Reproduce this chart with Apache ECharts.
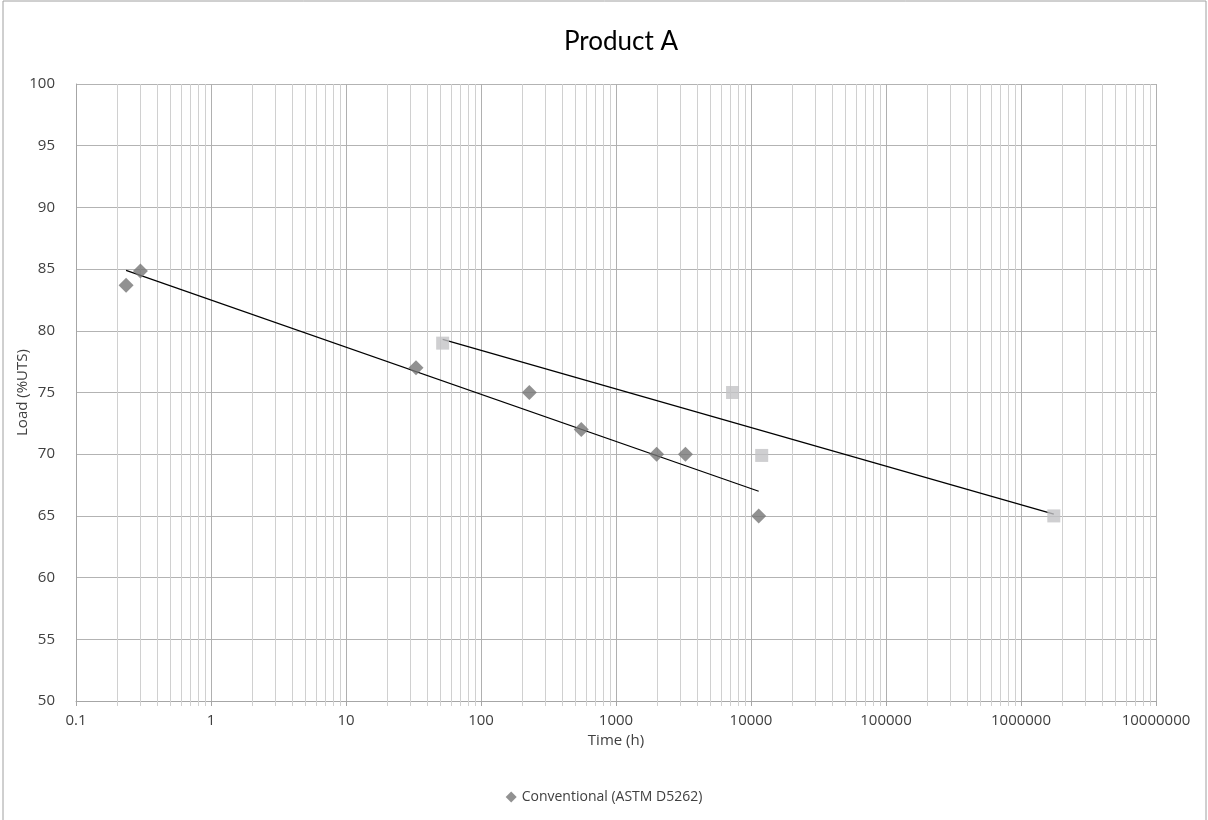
<!DOCTYPE html>
<html>
<head>
<meta charset="utf-8">
<script src="https://cdn.jsdelivr.net/npm/echarts@6/dist/echarts.min.js"></script>
<style>
  html, body { margin: 0; padding: 0; background: #fff; }
  #main { width: 1208px; height: 820px; }
</style>
</head>
<body>
<div id="main"></div>
<script>
// data
var conventional = [
  [0.235, 83.7], [0.3, 84.85], [33, 77], [228, 75], [553, 72],
  [2000, 70], [3270, 70], [11400, 65]
];
var otherSeries = [
  [52, 79], [7300, 75], [12000, 69.9], [1750000, 65]
];
var trendConventional = [[0.235, 84.9], [11400, 67.0]];
var trendOther = [[52, 79.3], [1750000, 65.15]];

var xTickLabels = ["0.1", "1", "10", "100", "1000", "10000", "100000", "1000000", "10000000"];

// minor gridline positions 2..9 in each decade
var minorTicks = [];
for (var d = -1; d < 7; d++) {
  for (var m = 2; m <= 9; m++) {
    minorTicks.push([m * Math.pow(10, d), 50]);
  }
}

var myChart = echarts.init(document.getElementById("main"));

var font = "'Open Sans', Lato, sans-serif";

var option = {
  animation: false,
  textStyle: { fontFamily: font },
  title: {
    text: "Product A",
    left: 616,
    textAlign: "center",
    top: 24,
    textStyle: { fontSize: 26, fontWeight: "normal", color: "#000", fontFamily: "Lato, sans-serif" }
  },
  graphic: [{
    type: "rect",
    shape: { x: 3, y: 1, width: 1203, height: 840 },
    style: { fill: "none", stroke: "#a0a0a0", lineWidth: 1 },
    silent: true
  }],
  legend: {
    data: [{ name: "Conventional (ASTM D5262)", icon: "diamond" }],
    bottom: 11,
    left: "center",
    itemWidth: 11,
    itemHeight: 11,
    textStyle: { fontSize: 14, color: "#404040", fontFamily: font }
  },
  grid: { left: 76, right: 52, top: 84, bottom: 119, containLabel: false },
  xAxis: {
    type: "log",
    logBase: 10,
    min: 0.1,
    max: 10000000,
    name: "Time (h)",
    nameLocation: "middle",
    nameGap: 28,
    nameTextStyle: { fontSize: 15, color: "#404040" },
    axisLine: { lineStyle: { color: "#a6a6a6" } },
    axisTick: { show: true, length: 5, lineStyle: { color: "#a6a6a6" } },
    axisLabel: {
      fontSize: 15,
      color: "#404040",
      margin: 12,
      formatter: function (v) {
        var k = Math.round(Math.log10(v)) + 1;
        return xTickLabels[k];
      }
    },
    splitLine: { show: true, lineStyle: { color: "#b0b0b0", width: 1 } }
  },
  yAxis: {
    type: "value",
    min: 50,
    max: 100,
    interval: 5,
    name: "Load (%UTS)",
    nameLocation: "middle",
    nameGap: 46,
    nameMoveOverlap: false,
    nameTextStyle: { fontSize: 15, color: "#404040" },
    axisLine: { show: true, lineStyle: { color: "#a6a6a6" } },
    axisTick: { show: false },
    axisLabel: { fontSize: 15, color: "#404040", margin: 21 },
    splitLine: { show: true, lineStyle: { color: "#b3b3b3", width: 1 } }
  },
  series: [
    {
      name: "minor",
      type: "custom",
      silent: true,
      z: 1,
      encode: { x: 0, y: 1 },
      data: minorTicks,
      renderItem: function (params, api) {
        var top = api.coord([api.value(0), 100]);
        var bot = api.coord([api.value(0), 50]);
        var x = Math.round(top[0]) + 0.5;
        return {
          type: "line",
          shape: { x1: x, y1: top[1], x2: x, y2: bot[1] + 5 },
          style: { stroke: "#d0d0d0", lineWidth: 1 }
        };
      }
    },
    {
      name: "trend1",
      type: "line",
      data: trendConventional,
      symbol: "none",
      lineStyle: { color: "#000", width: 1.2 },
      z: 3
    },
    {
      name: "trend2",
      type: "line",
      data: trendOther,
      symbol: "none",
      lineStyle: { color: "#000", width: 1.2 },
      z: 3
    },
    {
      name: "Conventional (ASTM D5262)",
      type: "scatter",
      data: conventional,
      symbol: "diamond",
      symbolSize: 15,
      itemStyle: { color: "#767676" },
      z: 4
    },
    {
      name: "Other",
      type: "scatter",
      data: otherSeries,
      symbol: "rect",
      symbolSize: 13,
      itemStyle: { color: "#c3c3c5" },
      z: 4
    }
  ]
};

myChart.setOption(option);
</script>
</body>
</html>
